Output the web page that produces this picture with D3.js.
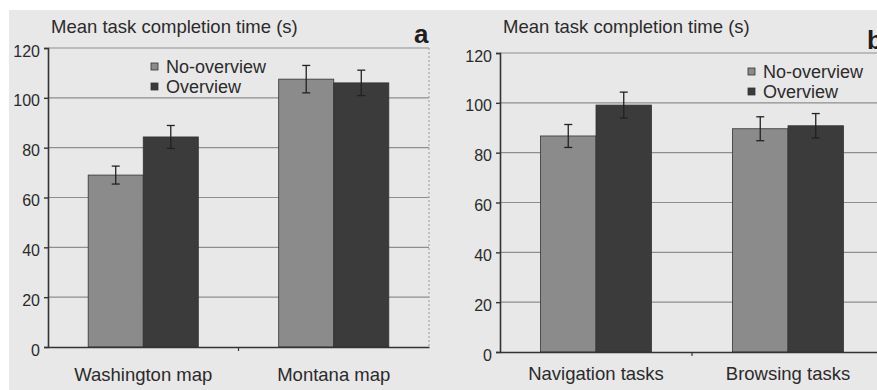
<!DOCTYPE html>
<html>
<head>
<meta charset="utf-8">
<script src="https://cdn.jsdelivr.net/npm/d3@7"></script>
<style>
  html, body { margin: 0; padding: 0; background: #ffffff; }
  svg { display: block; font-family: "Liberation Sans", Arial, sans-serif; }
</style>
</head>
<body>
<svg id="chart" width="877" height="390"></svg>
<script>
// Mean task completion time (s), with error-bar half widths
const seriesNames = ["No-overview", "Overview"];
const seriesColors = ["#8b8b8b", "#3b3b3b"];
const yTicks = [0, 20, 40, 60, 80, 100, 120];

const mapCategories = ["Washington map", "Montana map"];
const mapNoOverview = [69, 107.5];
const mapOverview = [84.3, 106];
const mapNoOverviewErr = [3.6, 5.5];
const mapOverviewErr = [4.6, 5.1];

const taskCategories = ["Navigation tasks", "Browsing tasks"];
const taskNoOverview = [86.7, 89.6];
const taskOverview = [99.1, 90.8];
const taskNoOverviewErr = [4.6, 4.8];
const taskOverviewErr = [5.2, 4.9];

const svg = d3.select("#chart");
const ink = "#2b2b2b";

// paper background
svg.append("rect").attr("width", 877).attr("height", 390).attr("fill", "#ffffff");
svg.append("rect").attr("x", 9).attr("y", 10).attr("width", 868).attr("height", 380).attr("fill", "#e8e8e8");

function panel(opts) {
  const g = svg.append("g");
  const y = d3.scaleLinear().domain([0, 120]).range([opts.bottom, opts.top]);
  const x = d3.scaleBand().domain(opts.categories).range([opts.left, opts.right]).padding(0);
  const xs = d3.scaleBand().domain(seriesNames).range([0, x.bandwidth()])
    .paddingInner(0).paddingOuter(0.73);

  // grid lines
  g.append("g").selectAll("line").data(yTicks.filter(v => v > 0)).join("line")
    .attr("x1", opts.left).attr("x2", opts.right)
    .attr("y1", d => y(d)).attr("y2", d => y(d))
    .attr("stroke", "#8e8e8e").attr("stroke-width", 1.1);

  // right border
  g.append("line")
    .attr("x1", opts.right).attr("x2", opts.right)
    .attr("y1", opts.top).attr("y2", opts.bottom)
    .attr("stroke", "#9a9a9a").attr("stroke-dasharray", "2,2");

  // bars
  const rows = opts.categories.map((c, i) => ({
    cat: c,
    vals: [
      { s: seriesNames[0], v: opts.a[i], e: opts.ae[i] },
      { s: seriesNames[1], v: opts.b[i], e: opts.be[i] }
    ]
  }));
  const groups = g.append("g").selectAll("g").data(rows).join("g")
    .attr("transform", d => `translate(${x(d.cat)},0)`);
  groups.selectAll("rect").data(d => d.vals).join("rect")
    .attr("x", d => xs(d.s))
    .attr("width", xs.bandwidth())
    .attr("y", d => y(d.v))
    .attr("height", d => y(0) - y(d.v))
    .attr("fill", (d, i) => seriesColors[i])
    .attr("stroke", "#333").attr("stroke-width", 0.8);

  // error bars
  const eb = groups.selectAll("g.err").data(d => d.vals).join("g").attr("class", "err")
    .attr("transform", d => `translate(${xs(d.s) + xs.bandwidth() / 2},0)`);
  eb.append("line").attr("y1", d => y(d.v + d.e)).attr("y2", d => y(d.v - d.e))
    .attr("stroke", "#222").attr("stroke-width", 1.3);
  eb.append("line").attr("x1", -4).attr("x2", 4)
    .attr("y1", d => y(d.v + d.e)).attr("y2", d => y(d.v + d.e))
    .attr("stroke", "#222").attr("stroke-width", 1.3);
  eb.append("line").attr("x1", -4).attr("x2", 4)
    .attr("y1", d => y(d.v - d.e)).attr("y2", d => y(d.v - d.e))
    .attr("stroke", "#222").attr("stroke-width", 1.3);

  // y axis
  const ya = g.append("g").attr("transform", `translate(${opts.left},0)`)
    .call(d3.axisLeft(y).tickValues(yTicks).tickSize(4).tickPadding(4).tickFormat(d3.format("d")));
  ya.select(".domain").attr("stroke", "#333").attr("stroke-width", 1.6);
  ya.selectAll(".tick line").attr("stroke", "#333").attr("stroke-width", 1.4);
  ya.selectAll(".tick text").attr("fill", ink).attr("font-size", 16)
    .attr("font-family", "Liberation Sans, Arial, sans-serif").attr("dy", "0.5em");

  // x axis
  const xa = g.append("g").attr("transform", `translate(0,${opts.bottom})`)
    .call(d3.axisBottom(x).tickSize(0).tickPadding(opts.labelPad));
  xa.select(".domain").attr("stroke", "#333").attr("stroke-width", 1.6);
  xa.selectAll(".tick text").attr("fill", ink).attr("font-size", 18.5)
    .attr("font-family", "Liberation Sans, Arial, sans-serif");
  // category separator ticks
  g.append("g").selectAll("line").data(opts.categories.slice(1)).join("line")
    .attr("x1", d => x(d)).attr("x2", d => x(d))
    .attr("y1", opts.bottom).attr("y2", opts.bottom + 4)
    .attr("stroke", "#333").attr("stroke-width", 1.2);

  // title
  g.append("text").attr("x", opts.left + 3).attr("y", 33)
    .attr("font-size", 18.5).attr("fill", ink).text("Mean task completion time (s)");

  // panel letter
  g.append("text").attr("x", opts.letterX).attr("y", opts.letterY)
    .attr("font-size", 26).attr("font-weight", "bold").attr("fill", "#1e1e1e").text(opts.letter);

  // legend
  const lg = g.append("g").attr("transform", `translate(${opts.legX},${opts.legY})`);
  const li = lg.selectAll("g").data(seriesNames).join("g")
    .attr("transform", (d, i) => `translate(0,${i * 20})`);
  li.append("rect").attr("x", 0).attr("y", -4).attr("width", 7).attr("height", 7)
    .attr("fill", (d, i) => seriesColors[i]).attr("stroke", "#333").attr("stroke-width", 0.8);
  li.append("text").attr("x", 15).attr("y", 0).attr("dy", "0.35em")
    .attr("font-size", 18).attr("fill", ink).text(d => d);
}

panel({
  categories: mapCategories, a: mapNoOverview, b: mapOverview,
  ae: mapNoOverviewErr, be: mapOverviewErr,
  left: 48, right: 429, top: 48, bottom: 347,
  letter: "a", letterX: 414, letterY: 43,
  legX: 151, legY: 67, labelPad: 21
});

panel({
  categories: taskCategories, a: taskNoOverview, b: taskOverview,
  ae: taskNoOverviewErr, be: taskOverviewErr,
  left: 500, right: 884, top: 53, bottom: 352,
  letter: "b", letterX: 867, letterY: 49,
  legX: 748, legY: 72, labelPad: 15
});
</script>
</body>
</html>
